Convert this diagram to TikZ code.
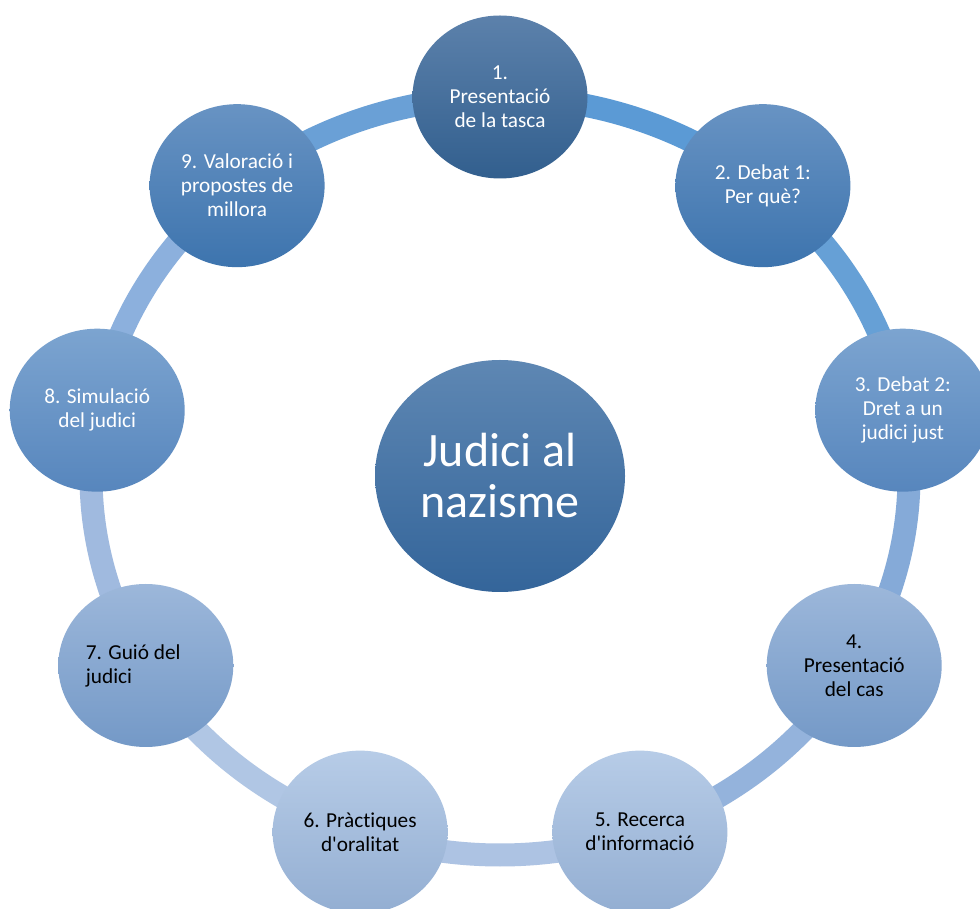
\documentclass[tikz,border=0pt]{standalone}
\usepackage{fontspec}
\setmainfont{Carlito}[Ligatures=NoCommon]
\usetikzlibrary{shapes.geometric,backgrounds,calc}
\definecolor{hubT}{HTML}{5E87B3}\definecolor{hubB}{HTML}{34659A}
\definecolor{aT}{HTML}{5C81AB}\definecolor{aB}{HTML}{325F8E}
\definecolor{bT}{HTML}{6893C3}\definecolor{bB}{HTML}{3D74AE}
\definecolor{cT}{HTML}{7CA4D0}\definecolor{cB}{HTML}{5786BD}
\definecolor{dT}{HTML}{9CB7DA}\definecolor{dB}{HTML}{7499C7}
\definecolor{eT}{HTML}{B7CCE7}\definecolor{eB}{HTML}{93AED2}
\definecolor{r91}{HTML}{6AA0D6}\definecolor{r12}{HTML}{5B9AD5}
\definecolor{r23}{HTML}{66A0D6}\definecolor{r34}{HTML}{85AAD8}
\definecolor{r45}{HTML}{94B3DC}\definecolor{r56}{HTML}{ADC3E3}
\definecolor{r67}{HTML}{B0C6E4}\definecolor{r78}{HTML}{A0BADF}
\definecolor{r89}{HTML}{8CB0DD}
\begin{document}
\begin{tikzpicture}[x=1pt,y=1pt,
  stepnode/.style={ellipse, minimum width=175pt, minimum height=163pt, inner sep=0pt, align=center, font=\fontsize{21.3}{24}\selectfont},
  ringarc/.style={line width=23pt},
  darknode/.style={text=white},
  lightnode/.style={text=black}
]
\useasboundingbox (0,0) rectangle (980,908);
\clip (0,0) rectangle (980,908);
\coordinate (C) at (500,432);
\node[ellipse, minimum width=250pt, minimum height=232pt, inner sep=0pt, top color=hubT, bottom color=hubB, text=white, align=center, font=\fontsize{48}{51}\selectfont] (hub) at (C) {Judici al\\nazisme};
\node[stepnode, darknode, top color=aT, bottom color=aB] (n1) at ($(C)+(90:409pt and 379pt)$) {1.\\Presentació\\de la tasca};
\node[stepnode, darknode, top color=bT, bottom color=bB] (n2) at ($(C)+(50:409pt and 379pt)$) {2. Debat 1:\\Per què?};
\node[stepnode, darknode, top color=cT, bottom color=cB] (n3) at ($(C)+(10:409pt and 379pt)$) {3. Debat 2:\\Dret a un\\judici just};
\node[stepnode, lightnode, top color=dT, bottom color=dB] (n4) at ($(C)+(-30:409pt and 379pt)$) {4.\\Presentació\\del cas};
\node[stepnode, lightnode, top color=eT, bottom color=eB] (n5) at ($(C)+(-70:409pt and 379pt)$) {5. Recerca\\d\textquotesingle informació};
\node[stepnode, lightnode, top color=eT, bottom color=eB] (n6) at ($(C)+(-110:409pt and 379pt)$) {6. Pràctiques\\d\textquotesingle oralitat};
\node[stepnode, lightnode, top color=dT, bottom color=dB, align=flush left, text width=120pt] (n7) at ($(C)+(-150:409pt and 379pt)$) {7. Guió del\\judici};
\node[stepnode, darknode, top color=cT, bottom color=cB] (n8) at ($(C)+(-190:409pt and 379pt)$) {8. Simulació\\del judici};
\node[stepnode, darknode, top color=bT, bottom color=bB] (n9) at ($(C)+(-230:409pt and 379pt)$) {9. Valoració i\\propostes de\\millora};
\begin{scope}[on background layer]
\fill[white] (0,0) rectangle (980,908);
\draw[ringarc, draw=r12] (n1.center) arc[start angle=90, end angle=50, x radius=409pt, y radius=379pt];
\draw[ringarc, draw=r23] (n2.center) arc[start angle=50, end angle=10, x radius=409pt, y radius=379pt];
\draw[ringarc, draw=r34] (n3.center) arc[start angle=10, end angle=-30, x radius=409pt, y radius=379pt];
\draw[ringarc, draw=r45] (n4.center) arc[start angle=-30, end angle=-70, x radius=409pt, y radius=379pt];
\draw[ringarc, draw=r56] (n5.center) arc[start angle=-70, end angle=-110, x radius=409pt, y radius=379pt];
\draw[ringarc, draw=r67] (n6.center) arc[start angle=-110, end angle=-150, x radius=409pt, y radius=379pt];
\draw[ringarc, draw=r78] (n7.center) arc[start angle=-150, end angle=-190, x radius=409pt, y radius=379pt];
\draw[ringarc, draw=r89] (n8.center) arc[start angle=-190, end angle=-230, x radius=409pt, y radius=379pt];
\draw[ringarc, draw=r91] (n9.center) arc[start angle=-230, end angle=-270, x radius=409pt, y radius=379pt];
\end{scope}
\end{tikzpicture}
\end{document}
